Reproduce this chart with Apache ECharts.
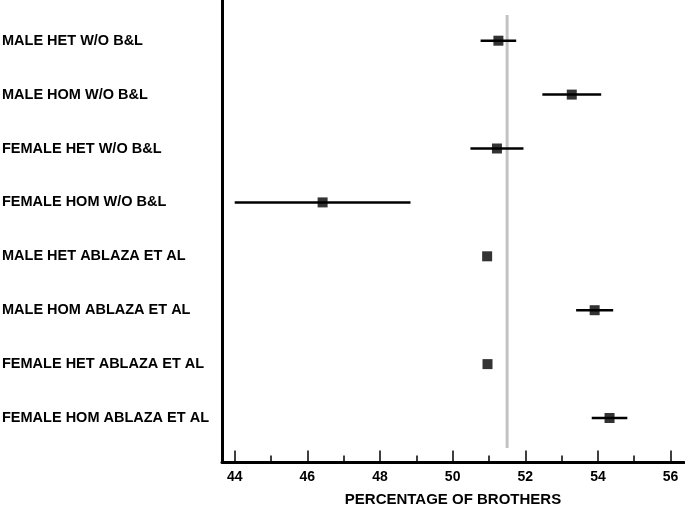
<!DOCTYPE html>
<html>
<head>
<meta charset="utf-8">
<script src="https://cdn.jsdelivr.net/npm/echarts@6/dist/echarts.min.js"></script>
<style>html,body{margin:0;padding:0;background:#fff;}#chart{width:685px;height:510px;}</style>
</head>
<body>
<div id="chart"></div>
<script>
const categories = [
  "MALE HET W/O B&L",
  "MALE HOM W/O B&L",
  "FEMALE HET W/O B&L",
  "FEMALE HOM W/O B&L",
  "MALE HET ABLAZA ET AL",
  "MALE HOM ABLAZA ET AL",
  "FEMALE HET ABLAZA ET AL",
  "FEMALE HOM ABLAZA ET AL"
];
const means = [51.26, 53.28, 51.22, 46.42, 50.95, 53.91, 50.96, 54.32];
const errors = [0.49, 0.81, 0.73, 2.42, 0, 0.51, 0, 0.49];
const majorTicks = [44, 46, 48, 50, 52, 54, 56];
const minorTicks = [45, 47, 49, 51, 53, 55];
const referenceValue = 51.5;

const rows = categories.map((c, i) => i + 1);
const pts = means.map((m, i) => [m, rows[i]]);
const bars = means.map((m, i) => [m - errors[i], m + errors[i], rows[i]]);

const chart = echarts.init(document.getElementById('chart'), null, {renderer: 'canvas'});
const font = {fontFamily: 'Liberation Sans, Arial, sans-serif', fontWeight: 'bold', color: '#000'};
const xRange = {min: 43.65, max: 56.37};
chart.setOption({
  animation: false,
  grid: {left: 222, right: 1, top: 0, bottom: 48, containLabel: false, outerBoundsMode: 'none'},
  xAxis: [{
    type: 'value', min: xRange.min, max: xRange.max, position: 'bottom',
    splitLine: {show: false},
    axisLine: {show: true, onZero: false, lineStyle: {color: '#000', width: 3}},
    axisTick: {show: true, inside: true, length: 11.5, lineStyle: {color: '#000', width: 1.5}, customValues: majorTicks},
    axisLabel: Object.assign({fontSize: 14, margin: 8, customValues: majorTicks}, font),
    name: 'PERCENTAGE OF BROTHERS', nameLocation: 'middle', nameGap: 30,
    nameTextStyle: Object.assign({fontSize: 15}, font)
  }, {
    type: 'value', min: xRange.min, max: xRange.max, position: 'bottom',
    splitLine: {show: false},
    axisLine: {show: false, onZero: false},
    axisTick: {show: true, inside: true, length: 6.5, lineStyle: {color: '#000', width: 1.5}, customValues: minorTicks},
    axisLabel: {show: false}
  }],
  yAxis: {
    type: 'value', inverse: true, min: 0.245, max: 8.816,
    splitLine: {show: false},
    axisLine: {show: true, onZero: false, lineStyle: {color: '#000', width: 3}},
    axisTick: {show: false},
    axisLabel: Object.assign({
      fontSize: 14.5, align: 'left', margin: 220,
      customValues: rows,
      formatter: v => categories[Math.round(v) - 1] || ''
    }, font)
  },
  series: [{
    type: 'line', xAxisIndex: 0,
    data: [[referenceValue, 0.523], [referenceValue, 8.557]],
    symbol: 'none', lineStyle: {color: '#c3c3c3', width: 3}, z: 1
  }, {
    type: 'custom', xAxisIndex: 0,
    data: bars,
    renderItem: (params, api) => {
      const a = api.coord([api.value(0), api.value(2)]);
      const b = api.coord([api.value(1), api.value(2)]);
      return {type: 'line', shape: {x1: a[0], y1: a[1], x2: b[0], y2: b[1]}, style: {stroke: '#000', lineWidth: 2.5}};
    }, z: 2
  }, {
    type: 'scatter', xAxisIndex: 0,
    data: pts, symbol: 'rect', symbolSize: 10,
    itemStyle: {color: '#000'}, z: 3
  }]
});
</script>
</body>
</html>
